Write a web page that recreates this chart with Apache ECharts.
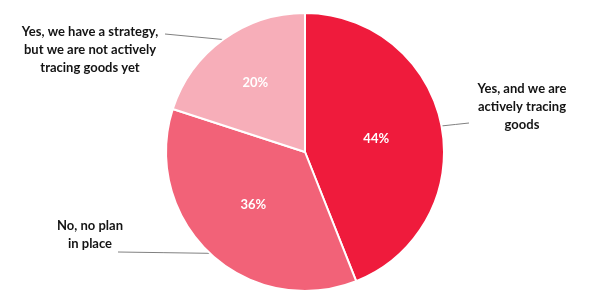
<!DOCTYPE html>
<html><head><meta charset="utf-8">
<script src="https://cdn.jsdelivr.net/npm/echarts@6/dist/echarts.min.js"></script>
<style>html,body{margin:0;padding:0;background:#fff}#c{width:600px;height:302px}</style>
</head><body><div id="c"></div>
<script>
const categories = ["Yes, and we are\nactively tracing\ngoods", "No, no plan\nin place", "Yes, we have a strategy,\nbut we are not actively\ntracing goods yet"];
const values = [44, 36, 20];
const colors = ["#EF1B3C", "#F26278", "#F7AEB9"];
// label anchor positions (layout only)
const labelPos = [
  {x: 522, y: 107, endX: 469, endY: 123},
  {x: 90, y: 235, endX: 118, endY: 252},
  {x: 90, y: 50, endX: 165, endY: 34}
];
const insideShift = [[0, 0], [-2, 0], [-7, -11]];
const chart = echarts.init(document.getElementById('c'), null, {renderer: 'canvas'});
const data = categories.map((n, i) => ({name: n, value: values[i], itemStyle: {color: colors[i]}}));
chart.setOption({
  animation: false,
  series: [
    {
      type: 'pie', center: [305, 152], radius: [0, 139], startAngle: 90, clockwise: true,
      silent: true,
      itemStyle: {borderColor: '#fff', borderWidth: 2},
      label: {position: 'inside', formatter: '{c}%', color: '#fff', fontFamily: 'Lato', fontWeight: 'bold', fontSize: 13},
      labelLine: {show: false},
      labelLayout: function (p) {
        const s = insideShift[p.dataIndex];
        return {dx: s[0], dy: s[1]};
      },
      data: data
    },
    {
      type: 'pie', center: [305, 152], radius: [0, 139], startAngle: 90, clockwise: true,
      silent: true,
      itemStyle: {color: 'rgba(0,0,0,0)', borderWidth: 0},
      label: {position: 'outside', formatter: '{b}', color: '#141414', fontFamily: 'Lato', fontWeight: 'bold', fontSize: 13, lineHeight: 18, align: 'center'},
      labelLine: {show: true, length: 10, length2: 10, lineStyle: {color: '#808080', width: 1}},
      labelLayout: function (p) {
        const lp = labelPos[p.dataIndex];
        const pts = p.labelLinePoints;
        const start = pts ? pts[0] : [lp.endX, lp.endY];
        return {
          x: lp.x, y: lp.y, align: 'center', verticalAlign: 'middle',
          labelLinePoints: [start, [(start[0] + lp.endX) / 2, (start[1] + lp.endY) / 2], [lp.endX, lp.endY]]
        };
      },
      data: categories.map((n, i) => ({name: n, value: values[i]}))
    }
  ]
});
</script></body></html>
